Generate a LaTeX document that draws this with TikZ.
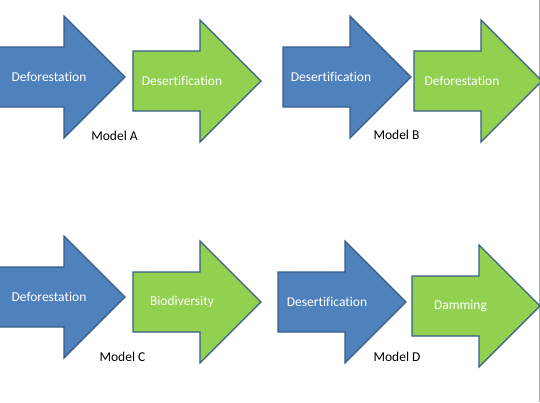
\documentclass[tikz,border=0pt]{standalone}
\usepackage{fontspec}
\setmainfont[Ligatures=NoCommon]{Carlito}
\usetikzlibrary{positioning}
\definecolor{ArrowBlue}{RGB}{79,129,189}
\definecolor{ArrowGreen}{RGB}{146,208,80}
\definecolor{ArrowEdge}{RGB}{56,93,138}
\definecolor{PageEdge}{RGB}{170,170,170}

% block arrow: left x, middle y, fill colour
\newcommand{\blockarrow}[3]{%
  \draw[ArrowEdge, line width=1.1pt, line join=miter, fill=#3]
    (#1,#2-30) -- (#1+67,#2-30) -- (#1+67,#2-61) -- (#1+128,#2)
    -- (#1+67,#2+61) -- (#1+67,#2+30) -- (#1,#2+30) -- cycle;}

\tikzset{
  arrowtext/.style={font=\fontsize{13.5}{16}\selectfont, text=white, inner sep=0pt},
  modeltext/.style={font=\fontsize{13.5}{16}\selectfont, text=black, inner sep=0pt}
}

\begin{document}
\begin{tikzpicture}[x=1pt, y=-1pt]
        \useasboundingbox (0,0) rectangle (540,402);
        \clip (0,0) rectangle (540,402);
        % Page edge
        \draw[PageEdge, line width=0.8pt] (539,0) -- (539,402);
        % Model A
        \blockarrow{-3}{77}{ArrowBlue}
        \blockarrow{133}{81}{ArrowGreen}
        \node[arrowtext] (defA) at (49,77) {Deforestation};
        \node[arrowtext] (desA) at (182,81) {Desertification};
        \node[modeltext] (modA) at (114.5,136) {Model A};
        % Model B
        \blockarrow{283}{77}{ArrowBlue}
        \blockarrow{414}{81}{ArrowGreen}
        \node[arrowtext] (desB) at (331,77) {Desertification};
        \node[arrowtext] (defB) at (462,81) {Deforestation};
        \node[modeltext] (modB) at (396.5,135) {Model B};
        % Model C
        \blockarrow{-3}{297}{ArrowBlue}
        \blockarrow{133}{302}{ArrowGreen}
        \node[arrowtext] (defC) at (49,297) {Deforestation};
        \node[arrowtext] (bioC) at (182,302) {Biodiversity};
        \node[modeltext] (modC) at (122.5,357) {Model C};
        % Model D
        \blockarrow{278}{302}{ArrowBlue}
        \blockarrow{412}{306}{ArrowGreen}
        \node[arrowtext] (desD) at (327,302) {Desertification};
        \node[arrowtext] (damD) at (460.5,306) {Damming};
        \node[modeltext] (modD) at (397,357) {Model D};
      \end{tikzpicture}
\end{document}
